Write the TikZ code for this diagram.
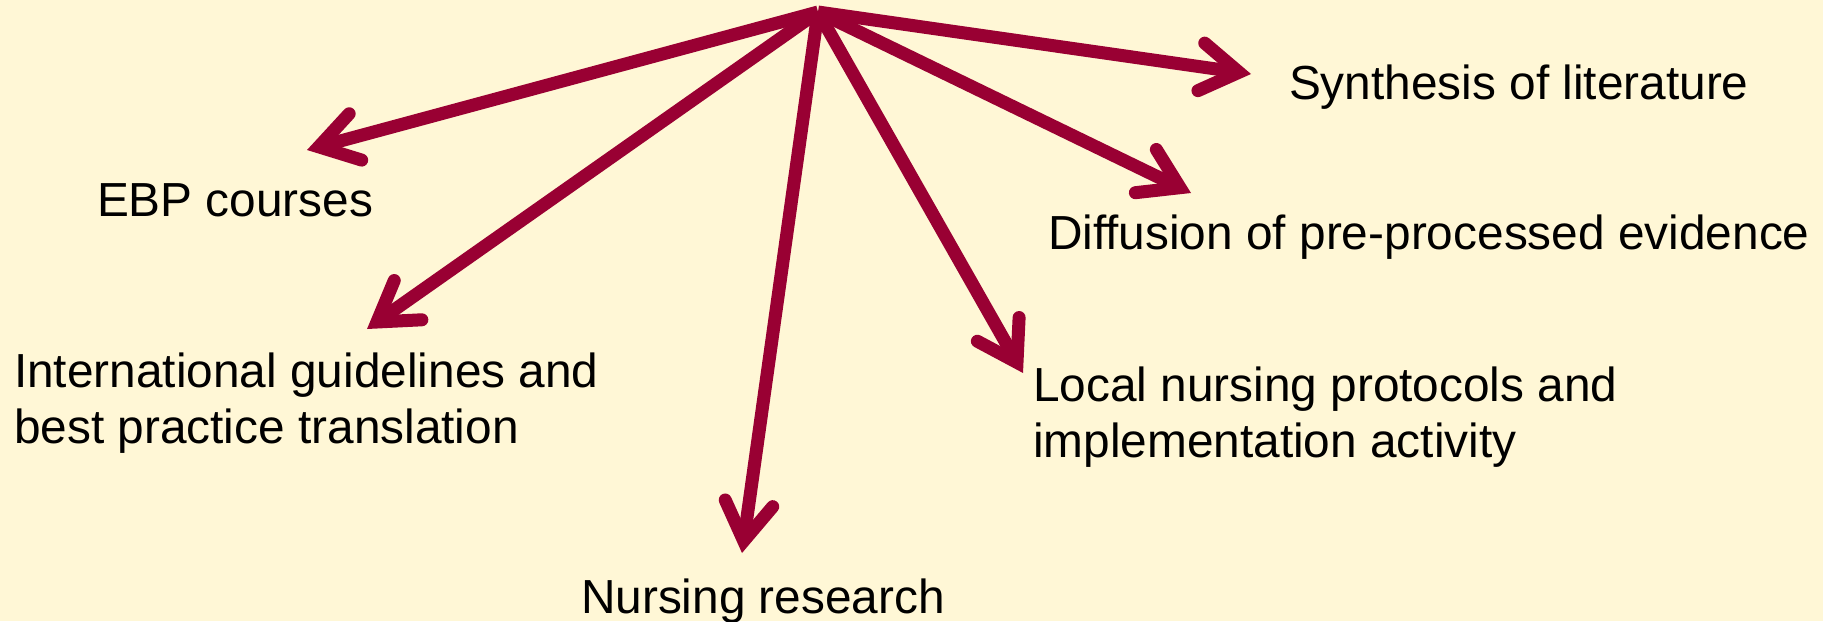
\documentclass[tikz,border=0pt]{standalone}
\usepackage{fontspec}
\setmainfont{Liberation Sans}
\usetikzlibrary{arrows.meta}
\definecolor{bgcream}{HTML}{FFF7D6}
\definecolor{crimson}{HTML}{990033}
\tikzset{
  lbl/.style={anchor=base west, inner sep=0pt, outer sep=0pt, align=left,
    font=\fontsize{23.9pt}{28pt}\selectfont, text=black},
  spoke/.style={draw=crimson, line width=6.5pt, line cap=butt,
    -{Straight Barb[length=19pt, width=24pt, line cap=round, line join=miter]}}
}
\begin{document}
\begin{tikzpicture}[x=0.5pt, y=-0.5pt]
\fill[bgcream] (0,0) rectangle (1823,621);
\useasboundingbox (0,0) rectangle (1823,621);
\coordinate (hub) at (818,12);
\coordinate (tsyn) at (1251,74);
\coordinate (tdif) at (1191,193);
\coordinate (tloc) at (1023,373);
\coordinate (tres) at (742,553);
\coordinate (tint) at (367,329);
\coordinate (tebp) at (307,150);
\node[lbl] (syn) at (1289,99) {Synthesis of literature};
\node[lbl] (ebp) at (97,216) {EBP courses};
\node[lbl] (dif) at (1048,249) {Diffusion of pre-processed evidence};
\node[lbl] (int) at (14,443) {International guidelines and\\best practice translation};
\node[lbl] (loc) at (1033,457) {Local nursing protocols and\\implementation activity};
\node[lbl] (res) at (581,613) {Nursing research};
\draw[spoke] (hub) -- (tsyn);
\draw[spoke] (hub) -- (tdif);
\draw[spoke] (hub) -- (tloc);
\draw[spoke] (hub) -- (tres);
\draw[spoke] (hub) -- (tint);
\draw[spoke] (hub) -- (tebp);
\end{tikzpicture}
\end{document}
